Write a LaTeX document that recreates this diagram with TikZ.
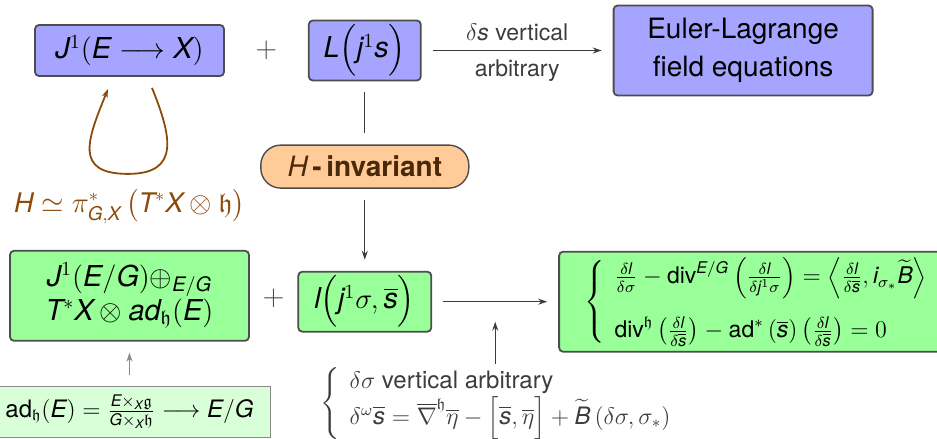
\documentclass[tikz,border=0pt]{standalone}
\usepackage{amsmath,amssymb}
\usepackage[no-math]{fontspec}
\setmainfont{TeX Gyre Heros}
\setsansfont{TeX Gyre Heros}[NFSSFamily=heros]
\usepackage{xcolor}
\usepackage{tikz}
\usetikzlibrary{arrows.meta,positioning,calc}
% letras de las formulas en sans cursiva, como en beamer
\DeclareSymbolFont{sfletters}{TU}{heros}{m}{it}
\makeatletter
\count@=65
\loop\ifnum\count@<91
  \Umathcode\count@=7 \symsfletters\count@
  \advance\count@ 1
\repeat
\count@=97
\loop\ifnum\count@<123
  \Umathcode\count@=7 \symsfletters\count@
  \advance\count@ 1
\repeat
\makeatother
\definecolor{lpBlueBg}{HTML}{A5A5FF}
\definecolor{lpGreenBg}{HTML}{99FF99}
\definecolor{lpMintBg}{HTML}{D9FFD9}
\definecolor{lpPeachBg}{HTML}{FFCC99}
\definecolor{lpEdge}{HTML}{4D4D4D}
\definecolor{lpArrow}{HTML}{3C3C3C}
\definecolor{lpGrey}{HTML}{8A8A8A}
\definecolor{lpBrown}{HTML}{8C4A0A}
\definecolor{lpDarkBrown}{HTML}{4A2808}
\tikzset{
  panel/.style={draw=lpEdge, line width=0.9pt, rounded corners=2pt, align=center, inner sep=0pt, font=\fontsize{14.4}{17}\selectfont, fill=#1},
  pill/.style={draw=lpEdge, line width=0.7pt, rounded corners=10pt, align=center, inner sep=0pt, fill=lpPeachBg, text=lpDarkBrown, font=\fontsize{14}{17}\selectfont},
  mint/.style={draw=lpGrey, line width=0.5pt, fill=lpMintBg, inner sep=0pt, font=\fontsize{12}{14}\selectfont},
  flow/.style={-{Stealth[length=4.5pt,width=3pt]}, draw=lpArrow, line width=0.6pt},
  link/.style={draw=lpArrow, line width=0.6pt},
  gap/.style={shorten <=5.5pt, shorten >=5.5pt},
  note/.style={font=\fontsize{11.5}{13}\selectfont, text=lpArrow},
  plus/.style={font=\fontsize{14.4}{17}\selectfont, text=lpEdge},
}
\begin{document}
\begin{tikzpicture}
\useasboundingbox (0,0) rectangle (468.5pt,-219.5pt);
% Fila superior
\node[panel=lpBlueBg, minimum width=94.5pt, minimum height=25.5pt] (jet) at (64.75pt,-25.25pt) {$J^1(E\longrightarrow X)$};
\node[panel=lpBlueBg, minimum width=56pt, minimum height=30pt, right=41.5pt of jet] (lag) {$L\Big(j^1s\Big)$};
\node[plus] (plusTop) at ($(jet.east)!0.5!(lag.west)$) {$+$};
\node[panel=lpBlueBg, minimum width=129.5pt, minimum height=45pt, font=\fontsize{14}{19}\selectfont, right=95.5pt of lag] (el) {Euler-Lagrange\\field equations};

% Grupo de simetria
\coordinate (loopA) at ($(jet.south)+(11.25pt,-5.5pt)$);
\coordinate (loopB) at ($(jet.south)+(-0.75pt,-48.5pt)$);
\coordinate (loopC) at ($(jet.south)+(-10.75pt,-6pt)$);
\draw[flow, draw=lpBrown, line width=0.9pt] (loopA) to[out=-68, in=0, looseness=1.5] (loopB) to[out=180, in=-112, looseness=1.6] (loopC);
\node[font=\fontsize{13.5}{17}\selectfont, text=lpBrown, below=52pt of jet] (hgrp) {$H\simeq\pi^*_{G,X}\,\big(T^*X\otimes\mathfrak{h}\big)$};

\node[pill, minimum width=104pt, minimum height=21.5pt, below=31.5pt of lag] (hinv) {$H$\,\textbf{-\,invariant}};

% Fila reducida
\node[panel=lpGreenBg, minimum width=66.5pt, minimum height=30pt, below=41pt of hinv] (red) {$l\Big(j^1\sigma,\overline{s}\Big)$};
\node[panel=lpGreenBg, minimum width=119.5pt, minimum height=45pt, below=86.5pt of jet] (redjet) {$J^1(E/G)\oplus_{E/G}$\\$T^*X\otimes ad_{\mathfrak{h}}(E)$};
\node[plus] (plusLow) at ($(redjet.east)!0.5!(red.west)$) {$+$};
\node[panel=lpGreenBg, text width=170pt, inner xsep=12.5pt, minimum height=50pt, align=left, font=\fontsize{11.5}{14}\selectfont, right=63pt of red] (ep) {$\left\{\begin{array}{l}
  \frac{\delta l}{\delta\sigma}-\text{div}^{E/G}\left(\frac{\delta l}{\delta j^1\sigma}\right)=\left\langle\frac{\delta l}{\delta\overline{s}},i_{\sigma_*}\widetilde{B}\right\rangle\\[12pt]
  \text{div}^{\mathfrak{h}}\left(\frac{\delta l}{\delta\overline{s}}\right)-\text{ad}^*\left(\overline{s}\right)\left(\frac{\delta l}{\delta\overline{s}}\right)=0
\end{array}\right.$};

\node[mint, minimum width=141pt, minimum height=25.5pt, below=22pt of redjet] (adj) {$\text{ad}_{\mathfrak{h}}(E)=\frac{E\times_X\mathfrak{g}}{G\times_X\mathfrak{h}}\longrightarrow E/G$};

\node[anchor=west, inner sep=0pt, font=\fontsize{12}{14}\selectfont, text=lpArrow] (cond) at (160pt,-202pt) {$\left\{\begin{array}{l}
  \delta\sigma\text{ vertical arbitrary}\\
  \delta^\omega\overline{s}=\overline{\nabla}^{\mathfrak{h}}\overline{\eta}-\Big[\overline{s},\overline{\eta}\Big]+\widetilde{B}\left(\delta\sigma,\sigma_*\right)
\end{array}\right.$};

% Flechas
\draw[flow, gap] (lag) -- node[note, above=1pt] {$\delta s$ vertical} node[note, below=1pt] {arbitrary} (el);
\draw[link, gap] (lag) -- (hinv);
\draw[flow, gap] (hinv) -- (red);
\draw[flow, gap] (red) -- (ep);
\coordinate (mid) at ($(red.east)!0.5!(ep.west)$);
\draw[flow] ([yshift=2pt]cond.north -| mid) -- ([yshift=-10pt]mid);
\draw[flow, gap, draw=lpGrey, line width=0.4pt] (adj) -- (redjet);
\end{tikzpicture}
\end{document}
